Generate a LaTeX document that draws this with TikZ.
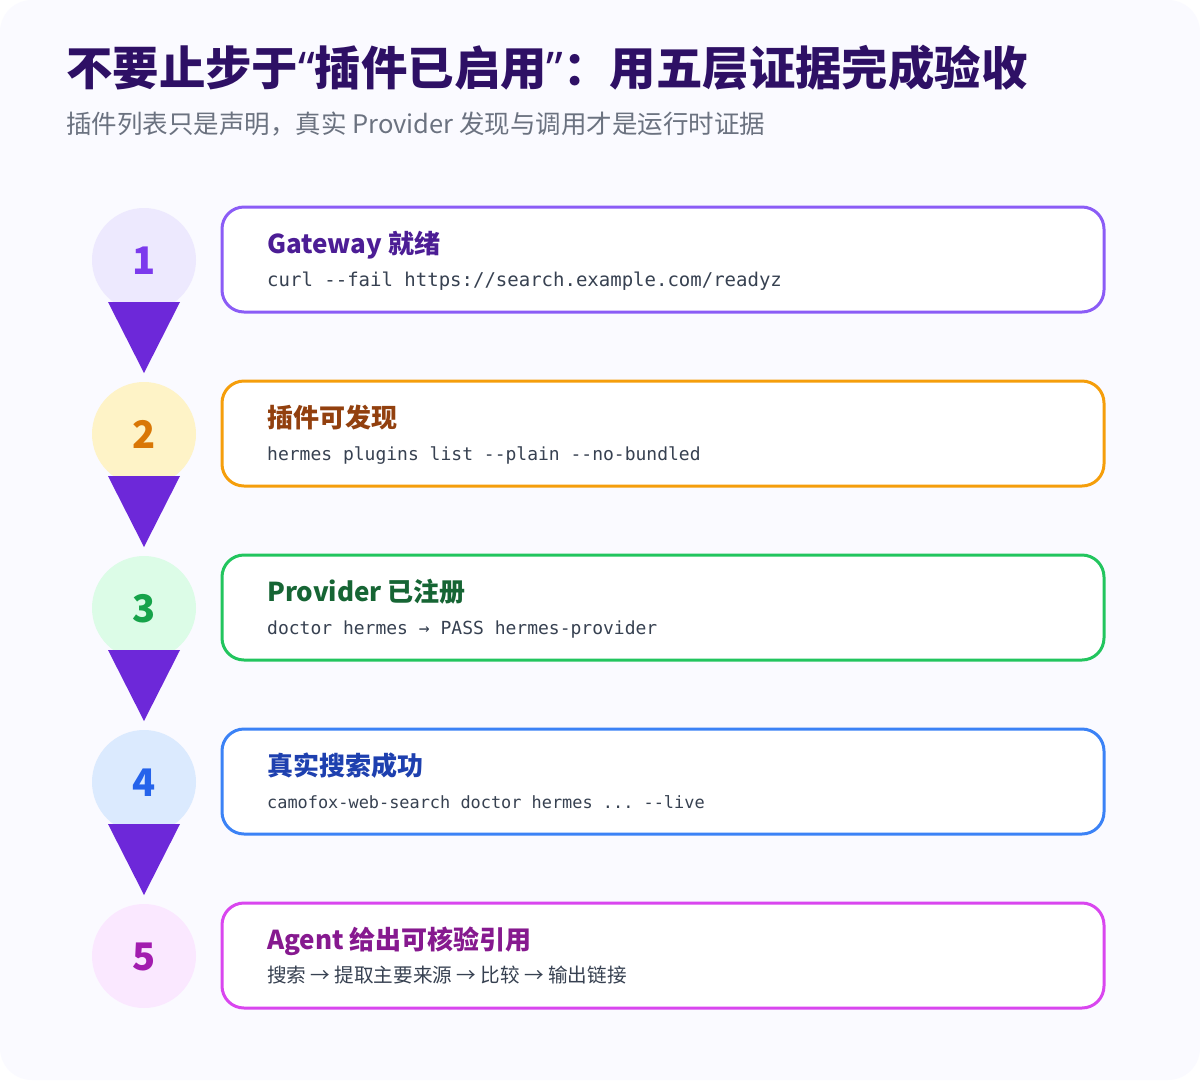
\documentclass[tikz,border=0pt]{standalone}
\usepackage{fontspec}
\setmainfont{Noto Sans CJK SC}
\setmonofont{DejaVu Sans Mono}
\newfontfamily\latinsans{Noto Sans}
\definecolor{cardbg}{HTML}{FAFAFF}
\definecolor{titlecol}{HTML}{2E1065}
\definecolor{subcol}{HTML}{6B7280}
\definecolor{codecol}{HTML}{374151}
\definecolor{arrowcol}{HTML}{6D28D9}
% step colours: line, fill, number, text
\definecolor{s1line}{HTML}{8B5CF6}\definecolor{s1fill}{HTML}{EDE9FE}\definecolor{s1num}{HTML}{7C3AED}\definecolor{s1text}{HTML}{4C1D95}
\definecolor{s2line}{HTML}{F59E0B}\definecolor{s2fill}{HTML}{FEF3C7}\definecolor{s2num}{HTML}{D97706}\definecolor{s2text}{HTML}{92400E}
\definecolor{s3line}{HTML}{22C55E}\definecolor{s3fill}{HTML}{DCFCE7}\definecolor{s3num}{HTML}{16A34A}\definecolor{s3text}{HTML}{166534}
\definecolor{s4line}{HTML}{3B82F6}\definecolor{s4fill}{HTML}{DBEAFE}\definecolor{s4num}{HTML}{2563EB}\definecolor{s4text}{HTML}{1E40AF}
\definecolor{s5line}{HTML}{D946EF}\definecolor{s5fill}{HTML}{FAE8FF}\definecolor{s5num}{HTML}{A21CAF}\definecolor{s5text}{HTML}{86198F}
\newcommand{\codefont}[1]{\ttfamily\fontsize{#1}{24}\selectfont\ignorespaces}
\tikzset{
  stepbox/.style={draw=#1, line width=3pt, fill=white, rounded corners=22pt},
  stepdot/.style={circle, fill=#1, minimum size=104pt, inner sep=0pt},
  steptitle/.style={anchor=base west, inner sep=0pt, text=#1, font=\bfseries\fontsize{26}{30}\selectfont},
  stepcode/.style={anchor=base west, inner sep=0pt, text=codecol, font=\fontsize{19.6}{24}\selectfont},
}
\begin{document}
\begin{tikzpicture}[x=1pt,y=-1pt]
        \useasboundingbox (0,0) rectangle (1200,1080);
        \fill[white] (0,0) rectangle (1200,1080);
        \fill[cardbg, rounded corners=32pt] (0,0) rectangle (1200,1080);
        \node[anchor=base west, inner sep=0pt, text=titlecol, font=\bfseries\fontsize{46.4}{52}\selectfont] (title) at (66,85) {不要止步于{\latinsans “}插件已启用{\latinsans ”}：用五层证据完成验收};
        \node[anchor=base west, inner sep=0pt, text=subcol, font=\fontsize{25.5}{30}\selectfont] (subtitle) at (66,133) {插件列表只是声明，真实 Provider 发现与调用才是运行时证据};
        \foreach \i/\ttl/\code in {
          1/{Gateway 就绪}/{\codefont{19} curl -{}-fail https://search.example.com/readyz},
          2/{插件可发现}/{\codefont{18} hermes plugins list -{}-plain -{}-no-bundled},
          3/{Provider 已注册}/{\codefont{18} doctor hermes → PASS hermes-provider},
          4/{真实搜索成功}/{\codefont{16.9} camofox-web-search doctor hermes ... -{}-live},
          5/{Agent 给出可核验引用}/{搜索 → 提取主要来源 → 比较 → 输出链接}}{
        \pgfmathsetmacro{\cy}{260+174*(\i-1)}
        \draw[stepbox=s\i line] (222,\cy-53) rectangle (1104,\cy+52);
        \node[steptitle=s\i text] (title\i) at (267,\cy-7) {\ttl};
        \node[stepcode] (code\i) at (267,\cy+26) {\code};
        \node[stepdot=s\i fill] (dot\i) at (144,\cy) {};
        \node[anchor=base, inner sep=0pt, text=s\i num, font=\bfseries\fontsize{38}{40}\selectfont] (num\i) at (144,\cy+14) {\i};
        \ifnum\i<5
        \fill[arrowcol] (108,\cy+42) -- (180,\cy+42) -- (144,\cy+113) -- cycle;
        \fi
        }
\end{tikzpicture}
\end{document}
